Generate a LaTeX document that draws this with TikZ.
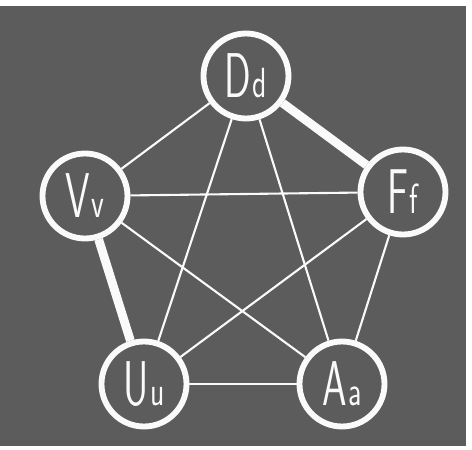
\documentclass[tikz,border=0pt]{standalone}
\usepackage{tikz}
\usepackage{xcolor}
\definecolor{slategrain}{RGB}{92,92,92}
\definecolor{chalkwhite}{RGB}{250,250,250}
% capital and small letter, narrow like the painted ones
\newcommand{\pair}[2]{\scalebox{0.62}[1]{\fontsize{54}{54}\selectfont #1}\kern1pt\scalebox{0.7}[1]{\fontsize{36}{36}\selectfont #2}}
\tikzset{
  letterring/.style={circle, draw=chalkwhite, line width=5pt, fill=slategrain,
    minimum size=2.55cm, inner sep=0pt, text=chalkwhite, font=\sffamily},
  thinlink/.style={chalkwhite, line width=1.8pt},
  thicklink/.style={chalkwhite, line width=7.5pt}
}

\begin{document}
\begin{tikzpicture}[x=0.03cm, y=-0.03cm]
    % Frame and background
    \useasboundingbox (0,0) rectangle (472,450);
    \fill[white] (0,0) rectangle (472,450);
    \fill[slategrain] (0,6) rectangle (466,446);

    % Letter rings
    \node[letterring] (D) at (246,76) {\pair{D}{d}};
    \node[letterring] (V) at (85,196) {\pair{V}{v}};
    \node[letterring] (F) at (403,192) {\pair{F}{f}};
    \node[letterring] (U) at (144,384) {\pair{U}{u}};
    \node[letterring] (A) at (342,384) {\pair{A}{a}};

    % Outer pentagon
    \draw[thicklink] (D) -- (F);
    \draw[thicklink] (V) -- (U);
    \draw[thinlink] (D) -- (V);
    \draw[thinlink] (F) -- (A);
    \draw[thinlink] (U) -- (A);

    % Inner star
    \draw[thinlink] (D) -- (U);
    \draw[thinlink] (D) -- (A);
    \draw[thinlink] (V) -- (F);
    \draw[thinlink] (V) -- (A);
    \draw[thinlink] (F) -- (U);
\end{tikzpicture}
\end{document}
